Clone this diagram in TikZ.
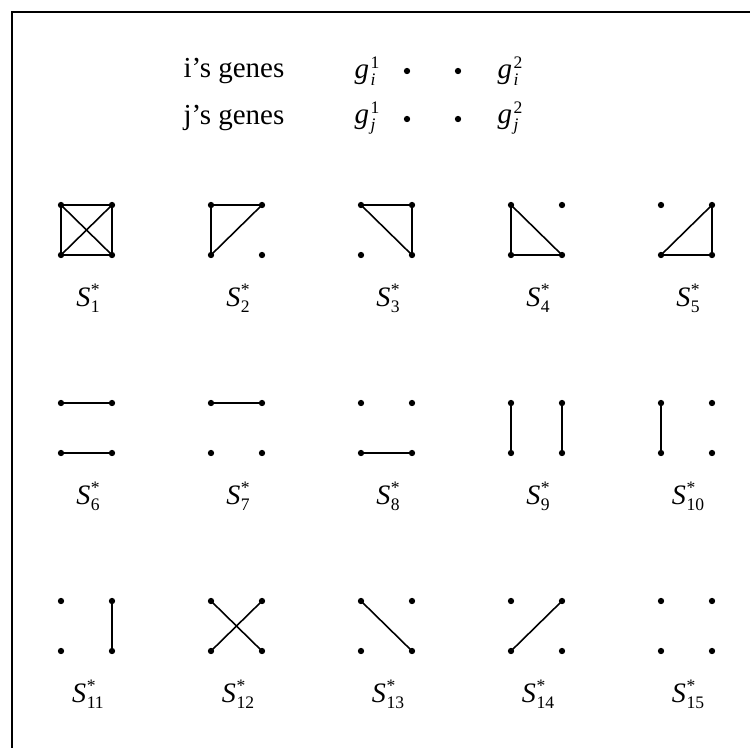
\documentclass[tikz,border=0pt]{standalone}
\usepackage{fontspec}
\setmainfont{Liberation Serif}
\usetikzlibrary{positioning}

\newcommand{\starlab}[1]{\textit{S}\kern0.3pt\raisebox{-3.4pt}{\fontsize{10}{9}\selectfont\shortstack[l]{*\\#1}}}
\newcommand{\genelab}[2]{\textit{g}\kern0.8pt\raisebox{-4pt}{\fontsize{10}{9}\selectfont\shortstack[l]{#2\\\textit{#1}}}}

\begin{document}
\begin{tikzpicture}[x=0.2mm, y=-0.2mm,
  dot/.style={circle, fill=black, inner sep=0pt, minimum size=3.6pt},
  link/.style={line width=0.9pt, black},
  frame/.style={line width=1.2pt, black},
  txt/.style={font=\fontsize{16.5}{19}\selectfont, inner sep=0pt},
  slabel/.style={font=\fontsize{16}{18}\selectfont, inner sep=0pt}
]
  \useasboundingbox (0,0) rectangle (750,748);
  \draw[frame] (750,12) -- (12,12) -- (12,748);

  % gene key
  \node[txt] (igenes) at (234,71) {i's genes};
  \node[txt] (jgenes) at (234,118) {j's genes};
  \node[txt] (gi1) at (367,71) {\genelab{i}{1}};
  \node[txt] (gi2) at (510,71) {\genelab{i}{2}};
  \node[txt] (gj1) at (367,118) {\genelab{j}{1}};
  \node[txt] (gj2) at (510,118) {\genelab{j}{2}};
  \node[dot] (hi1) at (407,71) {};
  \node[dot] (hi2) at (458,71) {};
  \node[dot] (hj1) at (407,119) {};
  \node[dot] (hj2) at (458,119) {};

  % the fifteen states: a b / c d
  \foreach \n/\col/\row in {1/0/0,2/1/0,3/2/0,4/3/0,5/4/0,
                            6/0/1,7/1/1,8/2/1,9/3/1,10/4/1,
                            11/0/2,12/1/2,13/2/2,14/3/2,15/4/2} {
    \pgfmathsetmacro{\px}{61+150*\col}
    \pgfmathsetmacro{\py}{205+198*\row}
    \node[dot] (s\n-a) at (\px,\py) {};
    \node[dot] (s\n-b) at (\px+51,\py) {};
    \node[dot] (s\n-c) at (\px,\py+50) {};
    \node[dot] (s\n-d) at (\px+51,\py+50) {};
    \node[slabel] (lab\n) at (\px+27,\py+93) {\starlab{\n}};
  }

  \foreach \n/\u/\v in {1/a/b,1/c/d,1/a/c,1/b/d,1/a/d,1/b/c,
                        2/a/b,2/a/c,2/b/c,
                        3/a/b,3/b/d,3/a/d,
                        4/a/c,4/c/d,4/a/d,
                        5/b/d,5/c/d,5/b/c,
                        6/a/b,6/c/d,
                        7/a/b,
                        8/c/d,
                        9/a/c,9/b/d,
                        10/a/c,
                        11/b/d,
                        12/a/d,12/b/c,
                        13/a/d,
                        14/b/c}
    \draw[link] (s\n-\u.center) -- (s\n-\v.center);
\end{tikzpicture}
\end{document}
